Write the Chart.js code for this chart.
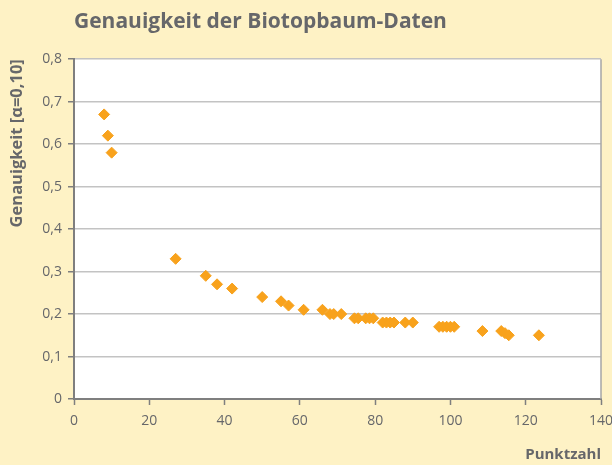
<!DOCTYPE html>
<html>
<head>
<meta charset="utf-8">
<script src="https://cdn.jsdelivr.net/npm/chart.js@4/dist/chart.umd.min.js"></script>
<style>
  html, body { margin: 0; padding: 0; background: #fef2c5; }
  #wrap { width: 612px; height: 465px; }
</style>
</head>
<body>
<div id="wrap"><canvas id="c" width="612" height="465"></canvas></div>
<script>
const chartTitle = "Genauigkeit der Biotopbaum-Daten";
const xTitle = "Punktzahl";
const yTitle = "Genauigkeit [α=0,10]";
const punktzahl = [8, 9, 10, 27, 35, 38, 42, 50, 55, 57, 61, 66, 68, 69, 71, 74.5, 75.5, 77.5, 78.5, 79.5, 82, 83, 84, 85, 88, 90, 97, 98, 99, 100, 101, 108.5, 113.5, 114.5, 115.5, 123.5];
const genauigkeit = [0.67, 0.62, 0.58, 0.33, 0.29, 0.27, 0.26, 0.24, 0.23, 0.22, 0.21, 0.21, 0.20, 0.20, 0.20, 0.19, 0.19, 0.19, 0.19, 0.19, 0.18, 0.18, 0.18, 0.18, 0.18, 0.18, 0.17, 0.17, 0.17, 0.17, 0.17, 0.16, 0.16, 0.155, 0.15, 0.15];

const points = punktzahl.map((x, i) => ({ x: x, y: genauigkeit[i] }));

const bgPlugin = {
  id: 'bg',
  beforeDraw(chart) {
    const { ctx, chartArea: a } = chart;
    ctx.save();
    ctx.fillStyle = '#fef2c5';
    ctx.fillRect(0, 0, chart.width, chart.height);
    ctx.fillStyle = '#ffffff';
    ctx.fillRect(a.left, a.top, a.right - a.left, a.bottom - a.top);
    ctx.restore();
  },
  beforeDatasetsDraw(chart) {
    const { ctx, chartArea: a } = chart;
    ctx.save();
    ctx.strokeStyle = '#a6a6a6';
    ctx.lineWidth = 1.5;
    ctx.beginPath();
    ctx.moveTo(a.right, a.top);
    ctx.lineTo(a.right, a.bottom);
    ctx.stroke();
    ctx.restore();
  }
};

const gray = '#66676a';
const fam = "'Open Sans', 'Noto Sans', sans-serif";

new Chart(document.getElementById('c'), {
  type: 'scatter',
  data: {
    datasets: [{
      data: points,
      pointStyle: 'rectRot',
      pointRadius: 5.5,
      pointBackgroundColor: '#f8a21c',
      pointBorderColor: '#f8a21c',
      pointBorderWidth: 1
    }]
  },
  options: {
    responsive: false,
    animation: false,
    devicePixelRatio: 1,
    layout: { padding: { left: 0, right: 11, top: 0, bottom: 0 } },
    plugins: {
      legend: { display: false },
      tooltip: { enabled: false },
      title: {
        display: true,
        text: chartTitle,
        align: 'start',
        fullSize: false,
        color: gray,
        font: { family: fam, size: 21, weight: 'bold' },
        padding: { top: 9, bottom: 25 }
      }
    },
    scales: {
      x: {
        type: 'linear',
        min: 0, max: 140,
        afterFit(s) { s.height = 66; s.paddingLeft = 0; s.paddingRight = 0; },
        ticks: { stepSize: 20, color: gray, padding: 8, font: { family: fam, size: 14 }, maxRotation: 0 },
        grid: { drawOnChartArea: false, drawTicks: true, tickLength: 6, tickColor: '#7f7f7f', tickWidth: 1.5 },
        border: { color: '#7f7f7f', width: 2 },
        title: { display: true, text: xTitle, align: 'end', color: gray, font: { family: fam, size: 15, weight: 'bold' }, padding: { top: 0, bottom: 1 } }
      },
      y: {
        min: 0, max: 0.8,
        afterFit(s) { s.width = 74; s.paddingTop = 0; s.paddingBottom = 0; },
        ticks: {
          stepSize: 0.1, color: gray, padding: 6, font: { family: fam, size: 14 },
          callback: v => (Math.abs(v) < 1e-9 ? '0' : v.toFixed(1).replace('.', ','))
        },
        grid: { color: '#c3c3c3', lineWidth: 1.5, drawTicks: true, tickLength: 6, tickColor: '#7f7f7f', tickWidth: 1.5 },
        border: { color: '#7f7f7f', width: 2 },
        title: { display: true, text: yTitle, align: 'end', color: gray, font: { family: fam, size: 16.5, weight: 'bold' }, padding: { top: 7, bottom: 0 } }
      }
    }
  },
  plugins: [bgPlugin]
});
</script>
</body>
</html>
